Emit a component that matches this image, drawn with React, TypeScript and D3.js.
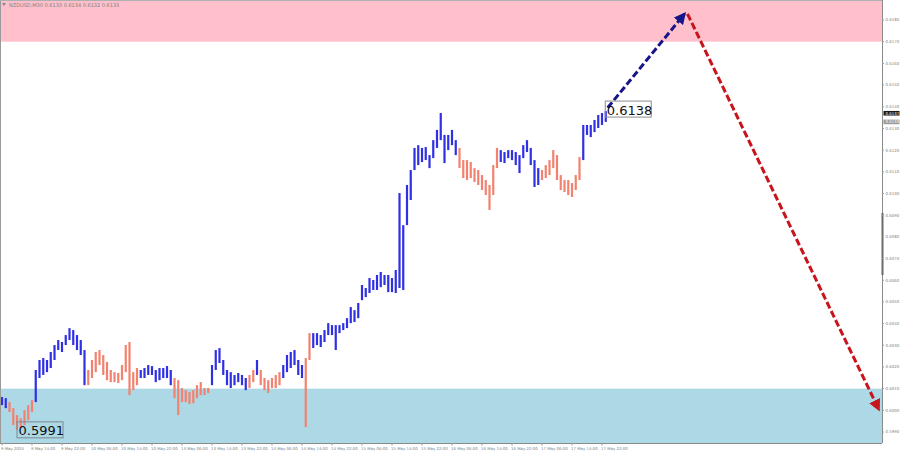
import React from 'react';
import * as d3 from 'd3';

// chart size and frame
const width = 900;
const height = 454;
const plotRight = 882;
const plotBottom = 443;

// hourly bars, 9 May 06:00 .. 17 May 19:00 (NZDUSD)
const highs = [
  0.60061, 0.60056, 0.60038, 0.60010, 0.59978, 0.59964, 0.60001, 0.60024, 0.60047, 0.60186,
  0.60232, 0.60241, 0.60232, 0.60269, 0.60301, 0.60324, 0.60315, 0.60347, 0.60379, 0.60370,
  0.60347, 0.60324, 0.60278, 0.60186, 0.60232, 0.60269, 0.60278, 0.60255, 0.60223, 0.60186,
  0.60176, 0.60172, 0.60209, 0.60301, 0.60315, 0.60176, 0.60195, 0.60186, 0.60195, 0.60209,
  0.60204, 0.60186, 0.60195, 0.60195, 0.60204, 0.60186, 0.60149, 0.60139, 0.60103, 0.60093,
  0.60084, 0.60093, 0.60116, 0.60130, 0.60103, 0.60103, 0.60209, 0.60278, 0.60287, 0.60232,
  0.60186, 0.60176, 0.60163, 0.60172, 0.60163, 0.60149, 0.60163, 0.60186, 0.60232, 0.60186,
  0.60149, 0.60139, 0.60149, 0.60163, 0.60176, 0.60209, 0.60255, 0.60269, 0.60278, 0.60232,
  0.60209, 0.60241, 0.60356, 0.60356, 0.60356, 0.60347, 0.60370, 0.60402, 0.60393, 0.60393,
  0.60393, 0.60402, 0.60425, 0.60476, 0.60462, 0.60495, 0.60578, 0.60564, 0.60610, 0.60601,
  0.60624, 0.60638, 0.60624, 0.60624, 0.60610, 0.60647, 0.61002, 0.60854, 0.61039, 0.61108,
  0.61210, 0.61223, 0.61210, 0.61214, 0.61177, 0.61246, 0.61293, 0.61371, 0.61270, 0.61270,
  0.61293, 0.61246, 0.61210, 0.61154, 0.61154, 0.61145, 0.61117, 0.61108, 0.61085, 0.61062,
  0.61039, 0.61131, 0.61210, 0.61200, 0.61191, 0.61200, 0.61200, 0.61191, 0.61177, 0.61223,
  0.61246, 0.61210, 0.61154, 0.61117, 0.61108, 0.61131, 0.61154, 0.61200, 0.61177, 0.61085,
  0.61062, 0.61062, 0.61048, 0.61085, 0.61168, 0.61316, 0.61316, 0.61316, 0.61339, 0.61362,
  0.61371, 0.61380,
];

const lows = [
  0.60024, 0.60010, 0.59992, 0.59932, 0.59910, 0.59918, 0.59932, 0.59955, 0.59992, 0.60038,
  0.60149, 0.60163, 0.60176, 0.60195, 0.60232, 0.60278, 0.60269, 0.60301, 0.60324, 0.60301,
  0.60278, 0.60255, 0.60116, 0.60116, 0.60149, 0.60176, 0.60209, 0.60163, 0.60139, 0.60130,
  0.60130, 0.60126, 0.60139, 0.60176, 0.60070, 0.60093, 0.60116, 0.60149, 0.60149, 0.60163,
  0.60163, 0.60130, 0.60139, 0.60149, 0.60149, 0.60116, 0.60056, 0.59978, 0.60038, 0.60038,
  0.60029, 0.60033, 0.60056, 0.60070, 0.60070, 0.60080, 0.60116, 0.60186, 0.60218, 0.60163,
  0.60116, 0.60103, 0.60116, 0.60130, 0.60116, 0.60093, 0.60103, 0.60130, 0.60163, 0.60116,
  0.60093, 0.60080, 0.60103, 0.60103, 0.60116, 0.60149, 0.60176, 0.60195, 0.60209, 0.60163,
  0.60149, 0.59923, 0.60232, 0.60287, 0.60301, 0.60292, 0.60315, 0.60347, 0.60347, 0.60278,
  0.60356, 0.60370, 0.60379, 0.60402, 0.60407, 0.60425, 0.60508, 0.60522, 0.60541, 0.60555,
  0.60555, 0.60568, 0.60578, 0.60545, 0.60545, 0.60541, 0.60564, 0.60555, 0.60854, 0.60970,
  0.61108, 0.61131, 0.61145, 0.61154, 0.61117, 0.61163, 0.61210, 0.61246, 0.61140, 0.61200,
  0.61223, 0.61177, 0.61117, 0.61071, 0.61062, 0.61071, 0.61053, 0.61039, 0.61016, 0.60993,
  0.60924, 0.60993, 0.61117, 0.61145, 0.61140, 0.61163, 0.61154, 0.61131, 0.61094, 0.61163,
  0.61191, 0.61131, 0.61030, 0.61039, 0.61062, 0.61071, 0.61085, 0.61117, 0.61062, 0.61016,
  0.61007, 0.60993, 0.60984, 0.61016, 0.61062, 0.61154, 0.61270, 0.61260, 0.61283, 0.61302,
  0.61316, 0.61330,
];

// wave colouring: [kind, number of bars]
const waveRuns: [string, number][] = [
  ['up', 2], ['corr', 7], ['up', 14], ['corr', 14], ['up', 9], ['corr', 10], ['up', 10],
  ['corr', 2], ['up', 1], ['corr', 6], ['up', 6], ['corr', 2], ['up', 39], ['corr', 11],
  ['up', 11], ['corr', 11], ['up', 7],
];

const timeLabels = [
  '9 May 2024', '9 May 14:00', '9 May 22:00', '10 May 06:00', '10 May 14:00', '10 May 22:00',
  '13 May 06:00', '13 May 14:00', '13 May 22:00', '14 May 06:00', '14 May 14:00', '14 May 22:00',
  '15 May 06:00', '15 May 14:00', '15 May 22:00', '16 May 06:00', '16 May 14:00', '16 May 22:00',
  '17 May 06:00', '17 May 14:00', '17 May 22:00',
];
const barsPerLabel = 8;

const priceTicks = [
  0.5990, 0.6000, 0.6010, 0.6020, 0.6030, 0.6040, 0.6050, 0.6060, 0.6070, 0.6080,
  0.6090, 0.6100, 0.6110, 0.6120, 0.6130, 0.6140, 0.6150, 0.6160, 0.6170, 0.6180,
];

// target zones
const resistanceZone = [0.6170, 0.6200];
const supportZone = [0.5980, 0.6010];

// forecast path: [bar index, price]
const forecastUp: [number, number][] = [[161.5, 0.61395], [182, 0.61828]];
const forecastDown: [number, number][] = [[182.8, 0.61828], [233.8, 0.60005]];

const lastTag = 0.6137;
const bidTag = 0.6133;
const title = 'NZDUSD,M30  0.6133 0.6134 0.6132 0.6133';

const colors: Record<string, string> = { up: '#2f2fe4', corr: '#f2826f' };

const App: React.FC = () => {
  const x = d3.scaleLinear().domain([0, 234]).range([2, 879.5]);
  const y = d3.scaleLinear().domain([0.599, 0.618]).range([432, 20]);

  const kinds: string[] = [];
  waveRuns.forEach(([k, n]) => {
    for (let i = 0; i < n; i++) kinds.push(k);
  });

  const line = d3.line<[number, number]>().x(d => x(d[0])).y(d => y(d[1]));

  const hiIdx = highs.length - 1;
  const loIdx = lows.indexOf(d3.min(lows) as number);

  const axisFont = { fontFamily: 'DejaVu Sans, sans-serif', fontSize: 3.9, fill: '#808080' };
  const boxFont = { fontFamily: 'DejaVu Sans, sans-serif', fontSize: 13, fill: '#111' };

  return (
    <svg width={width} height={height} style={{ position: 'absolute', left: 0, top: 0, background: '#fff' }}>
      <defs>
        <marker id="headBlue" viewBox="0 0 10 10" refX="8" refY="5" markerWidth="4" markerHeight="4" orient="auto">
          <path d="M0,0 L10,5 L0,10 z" fill="#16168a" />
        </marker>
        <marker id="headRed" viewBox="0 0 10 10" refX="8" refY="5" markerWidth="4" markerHeight="4" orient="auto">
          <path d="M0,0 L10,5 L0,10 z" fill="#c8141c" />
        </marker>
        <clipPath id="plot">
          <rect x={0} y={0} width={plotRight} height={plotBottom} />
        </clipPath>
      </defs>

      {/* zones */}
      <g clipPath="url(#plot)">
        <rect x={0} y={y(resistanceZone[1])} width={plotRight} height={y(resistanceZone[0]) - y(resistanceZone[1])} fill="#ffc0cb" />
        <rect x={0} y={y(supportZone[1])} width={plotRight} height={y(supportZone[0]) - y(supportZone[1])} fill="#add8e6" />
      </g>

      {/* title */}
      <path d="M2,3 L6,3 L4,6 z" fill="#888" />
      <text x={9} y={6.5} {...axisFont} fontSize={5}>{title}</text>

      {/* bars */}
      <g clipPath="url(#plot)">
        {highs.map((h, i) => (
          <line key={i} x1={x(i)} x2={x(i)} y1={y(h)} y2={y(lows[i])}
            stroke={colors[kinds[i]]} strokeWidth={2.2} />
        ))}
      </g>

      {/* forecast arrows */}
      <path d={line(forecastUp) as string} fill="none" stroke="#16168a" strokeWidth={3}
        strokeDasharray="7,3" markerEnd="url(#headBlue)" />
      <path d={line(forecastDown) as string} fill="none" stroke="#c8141c" strokeWidth={3}
        strokeDasharray="7,3" markerEnd="url(#headRed)" />

      {/* extreme labels */}
      <g>
        <rect x={x(hiIdx) - 0.5} y={y(highs[hiIdx]) - 10} width={46} height={16} fill="none" stroke="#8c8c8c" />
        <text x={x(hiIdx) + 1} y={y(highs[hiIdx]) + 3.5} {...boxFont}>{highs[hiIdx].toFixed(4)}</text>
        <rect x={x(loIdx) + 0} y={y(lows[loIdx]) - 8} width={46} height={16} fill="none" stroke="#7a8a90" />
        <text x={x(loIdx) + 1.5} y={y(lows[loIdx]) + 5.5} {...boxFont}>{lows[loIdx].toFixed(4)}</text>
      </g>

      {/* frame */}
      <line x1={0.5} x2={0.5} y1={0} y2={plotBottom} stroke="#9a9a9a" />
      <line x1={0} x2={plotRight} y1={0.5} y2={0.5} stroke="#b0b0b0" />
      <line x1={plotRight + 0.5} x2={plotRight + 0.5} y1={0} y2={plotBottom} stroke="#8a8a8a" />
      <line x1={0} x2={plotRight} y1={plotBottom + 0.5} y2={plotBottom + 0.5} stroke="#8a8a8a" />
      <line x1={plotRight + 0.5} x2={plotRight + 0.5} y1={213} y2={275} stroke="#6a6a6a" strokeWidth={2} />

      {/* price axis */}
      {priceTicks.map(p => (
        <g key={p}>
          <line x1={plotRight} x2={plotRight + 2} y1={y(p)} y2={y(p)} stroke="#999" />
          <text x={plotRight + 3.5} y={y(p) + 1.4} {...axisFont}>{p.toFixed(4)}</text>
        </g>
      ))}
      <rect x={plotRight + 1.5} y={y(lastTag) - 2.3} width={16} height={4.6} fill="#1a1a1a" />
      <text x={plotRight + 3.5} y={y(lastTag) + 1.4} {...axisFont} fill="#fff">{lastTag.toFixed(4)}</text>
      <rect x={plotRight + 1.5} y={y(bidTag) - 2.3} width={16} height={4.6} fill="#9a9a9a" />
      <text x={plotRight + 3.5} y={y(bidTag) + 1.4} {...axisFont} fill="#fff">{bidTag.toFixed(4)}</text>

      {/* time axis */}
      {timeLabels.map((t, i) => (
        <g key={t}>
          <line x1={x(i * barsPerLabel)} x2={x(i * barsPerLabel)} y1={plotBottom} y2={plotBottom + 2.5} stroke="#999" />
          <text x={x(i * barsPerLabel) - 1} y={plotBottom + 6.5} {...axisFont}>{t}</text>
        </g>
      ))}
    </svg>
  );
};

export default App;
